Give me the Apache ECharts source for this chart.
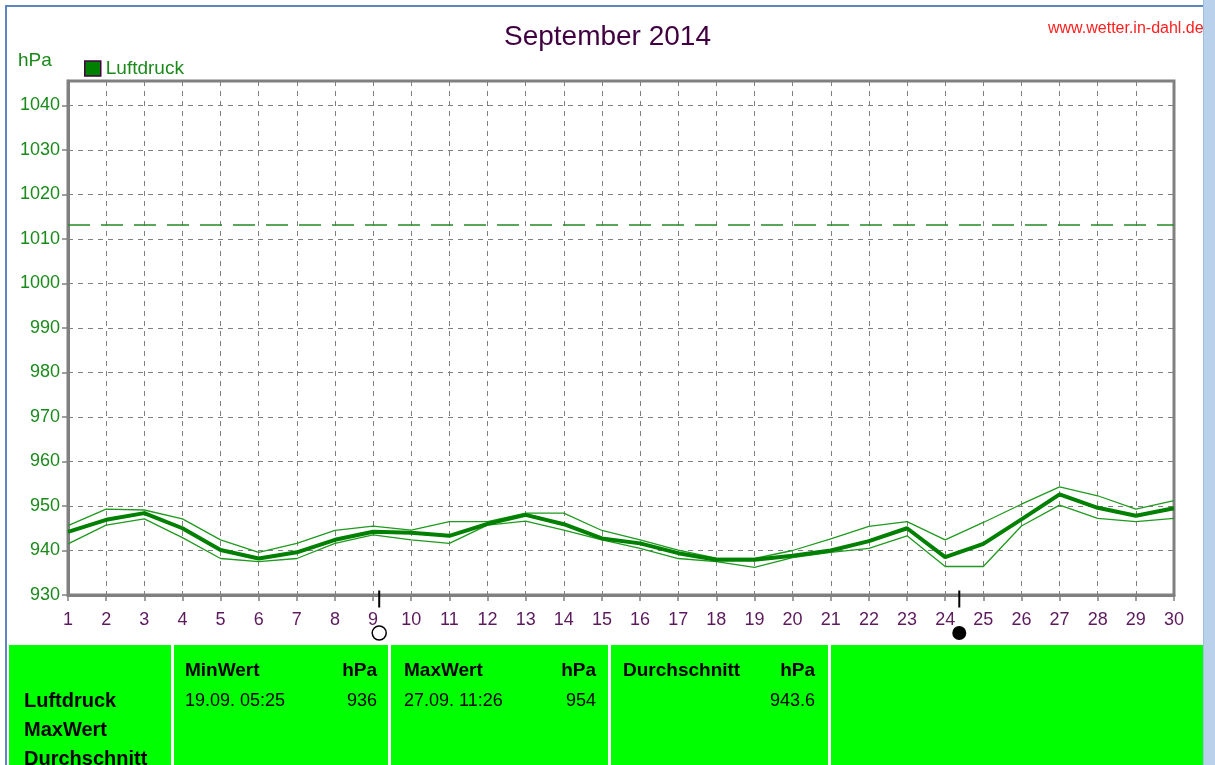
<!DOCTYPE html>
<html>
<head>
<meta charset="utf-8">
<title>Luftdruck September 2014</title>
<script src="https://cdn.jsdelivr.net/npm/echarts@6/dist/echarts.min.js"></script>
<style>
  html, body { margin: 0; padding: 0; background: #fff; }
  #chart { width: 1215px; height: 765px; }
</style>
</head>
<body>
<div id="chart"></div>
<script>
// Tage des Monats
var days = [];
for (var d = 1; d <= 30; d++) days.push(d);

// Tagesmittel (dicke Linie)
var luftMittel = [944.2, 946.9, 948.4, 945.0, 940.1, 938.2, 939.6, 942.4, 944.2, 944.0,
                  943.3, 946.0, 948.0, 945.9, 942.7, 941.6, 939.4, 937.9, 937.9, 938.8,
                  940.0, 942.1, 945.0, 938.5, 941.5, 947.0, 952.6, 949.6, 947.8, 949.5];
// Tagesmaximum (obere dünne Linie)
var luftMax = [945.6, 949.3, 949.1, 947.1, 942.4, 939.6, 941.6, 944.5, 945.5, 944.6,
               946.5, 946.5, 948.4, 948.4, 944.5, 942.4, 940.1, 938.3, 938.2, 940.0,
               942.6, 945.4, 946.5, 942.4, 946.3, 950.4, 954.3, 952.3, 949.3, 951.2];
// Tagesminimum (untere dünne Linie)
var luftMin = [941.5, 945.7, 947.1, 942.9, 938.2, 937.5, 938.2, 941.6, 943.5, 942.4,
               941.6, 945.7, 946.6, 944.6, 942.4, 940.5, 938.2, 937.5, 936.2, 938.4,
               939.6, 940.5, 943.3, 936.4, 936.4, 945.5, 950.2, 947.2, 946.5, 947.2];

// Normaldruck (gestrichelte Linie)
var normalDruck = 1013.25;

// Mondphasen: Vollmond und Neumond (Tag als Kommazahl)
var vollmond = [9.16];
var neumond = [24.37];

// Statistik-Tabelle unten
var minWert = { zeit: '19.09. 05:25', wert: '936' };
var maxWert = { zeit: '27.09. 11:26', wert: '954' };
var durchschnitt = '943.6';

function pairs(arr) {
    return arr.map(function (v, i) { return [days[i], v]; });
}

var chart = echarts.init(document.getElementById('chart'));

var grau = '#808080';
var gruen = '#008000';
var lila = '#5c1a5c';
var schrift = 'Arial, "Liberation Sans", sans-serif';

var option = {
    animation: false,
    title: {
        text: 'September 2014',
        left: 'center',
        top: 18,
        textStyle: { color: '#400040', fontSize: 28, fontWeight: 'normal', fontFamily: schrift }
    },
    legend: {
        data: ['Luftdruck'],
        left: 79,
        top: 54,
        icon: 'rect',
        itemWidth: 16,
        itemHeight: 15,
        itemGap: 6,
        itemStyle: { borderColor: '#400040', borderWidth: 1.5 },
        textStyle: { color: '#1a8a1a', fontSize: 19, fontFamily: schrift, padding: [3, 0, 0, 0] }
    },
    grid: {
        left: 68,
        right: 41,
        top: 81,
        bottom: 170,
        show: true,
        borderColor: grau,
        borderWidth: 3
    },
    xAxis: {
        type: 'value',
        min: 1,
        max: 30,
        interval: 1,
        axisLine: { lineStyle: { color: grau, width: 3 } },
        axisTick: { show: true, length: 6, lineStyle: { color: grau, width: 1.5 } },
        axisLabel: { color: lila, fontSize: 18, fontFamily: schrift, margin: 16 },
        splitLine: { show: true, lineStyle: { color: grau, type: [5, 5], width: 1 } }
    },
    yAxis: {
        type: 'value',
        min: 930,
        max: 1045.5,
        interval: 10,
        axisLine: { show: true, lineStyle: { color: grau, width: 3 } },
        axisTick: { show: true, length: 6, lineStyle: { color: grau, width: 1.5 } },
        axisLabel: {
            color: '#1a8a1a', fontSize: 18, fontFamily: schrift, margin: 8, showMaxLabel: false,
            formatter: function (v) { return String(v); }
        },
        splitLine: { show: true, lineStyle: { color: grau, type: [5, 5], width: 1 } }
    },
    series: [
        {
            name: 'Max',
            type: 'line',
            data: pairs(luftMax),
            showSymbol: false,
            lineStyle: { color: '#1f9a1f', width: 1.3 }
        },
        {
            name: 'Min',
            type: 'line',
            data: pairs(luftMin),
            showSymbol: false,
            lineStyle: { color: '#1f9a1f', width: 1.3 }
        },
        {
            name: 'Luftdruck',
            type: 'line',
            data: pairs(luftMittel),
            showSymbol: false,
            itemStyle: { color: gruen },
            lineStyle: { color: gruen, width: 4 },
            markLine: {
                silent: true,
                symbol: 'none',
                label: { show: false },
                lineStyle: { color: '#238a23', type: [22, 11], width: 1.5 },
                data: [{ yAxis: normalDruck }]
            }
        },
        // Mondstriche an der x-Achse
        {
            name: 'MondStrich',
            type: 'scatter',
            clip: false,
            silent: true,
            data: vollmond.concat(neumond).map(function (t) { return [t, 930]; }),
            symbol: 'rect',
            symbolSize: [2, 17],
            symbolOffset: [0, 4],
            itemStyle: { color: '#000', opacity: 1 }
        },
        // Vollmond: leerer Kreis
        {
            name: 'Vollmond',
            type: 'scatter',
            clip: false,
            silent: true,
            data: vollmond.map(function (t) { return [t, 930]; }),
            symbol: 'circle',
            symbolSize: 14,
            symbolOffset: [0, 38],
            itemStyle: { color: '#fff', borderColor: '#000', borderWidth: 1.5, opacity: 1 }
        },
        // Neumond: gefüllter Kreis
        {
            name: 'Neumond',
            type: 'scatter',
            clip: false,
            silent: true,
            data: neumond.map(function (t) { return [t, 930]; }),
            symbol: 'circle',
            symbolSize: 14,
            symbolOffset: [0, 38],
            itemStyle: { color: '#000', opacity: 1 }
        }
    ],
    graphic: [
        // Fensterrahmen
        { type: 'rect', shape: { x: 5, y: 5, width: 1199, height: 2 }, style: { fill: '#5b86c0' }, z: 100 },
        { type: 'rect', shape: { x: 5, y: 5, width: 2, height: 760 }, style: { fill: '#5b86c0' }, z: 100 },
        // Einheit
        { type: 'text', left: 18, top: 51, style: { text: 'hPa', fill: '#1a8a1a', font: '19px ' + schrift } },
        // Quelle
        { type: 'text', left: 1048, top: 21, style: { text: 'www.wetter.in-dahl.de', fill: '#ff2020', font: '16px ' + schrift }, z: 50 },
        // Scrollbalken rechts
        { type: 'rect', shape: { x: 1203, y: 0, width: 12, height: 765 }, style: { fill: '#b9d1ea' }, z: 100 },
        { type: 'rect', shape: { x: 1203, y: 0, width: 1, height: 765 }, style: { fill: '#9fbfe0' }, z: 101 },
        // Tabelle
        { type: 'rect', shape: { x: 9, y: 645, width: 162, height: 120 }, style: { fill: '#00ff00' } },
        { type: 'rect', shape: { x: 174, y: 645, width: 214, height: 120 }, style: { fill: '#00ff00' } },
        { type: 'rect', shape: { x: 391, y: 645, width: 217, height: 120 }, style: { fill: '#00ff00' } },
        { type: 'rect', shape: { x: 611, y: 645, width: 217, height: 120 }, style: { fill: '#00ff00' } },
        { type: 'rect', shape: { x: 831, y: 645, width: 372, height: 120 }, style: { fill: '#00ff00' } },
        { type: 'text', left: 24, top: 691, style: { text: 'Luftdruck', fill: '#000', font: 'bold 20px ' + schrift } },
        { type: 'text', left: 24, top: 720, style: { text: 'MaxWert', fill: '#000', font: 'bold 20px ' + schrift } },
        { type: 'text', left: 24, top: 749, style: { text: 'Durchschnitt', fill: '#000', font: 'bold 20px ' + schrift } },
        { type: 'text', left: 185, top: 661, style: { text: 'MinWert', fill: '#000', font: 'bold 19px ' + schrift } },
        { type: 'text', right: 1215 - 377, top: 661, style: { text: 'hPa', fill: '#000', font: 'bold 19px ' + schrift } },
        { type: 'text', left: 185, top: 692, style: { text: minWert.zeit, fill: '#000', font: '18px ' + schrift } },
        { type: 'text', right: 1215 - 377, top: 692, style: { text: minWert.wert, fill: '#000', font: '18px ' + schrift } },
        { type: 'text', left: 404, top: 661, style: { text: 'MaxWert', fill: '#000', font: 'bold 19px ' + schrift } },
        { type: 'text', right: 1215 - 596, top: 661, style: { text: 'hPa', fill: '#000', font: 'bold 19px ' + schrift } },
        { type: 'text', left: 404, top: 692, style: { text: maxWert.zeit, fill: '#000', font: '18px ' + schrift } },
        { type: 'text', right: 1215 - 596, top: 692, style: { text: maxWert.wert, fill: '#000', font: '18px ' + schrift } },
        { type: 'text', left: 623, top: 661, style: { text: 'Durchschnitt', fill: '#000', font: 'bold 19px ' + schrift } },
        { type: 'text', right: 1215 - 815, top: 661, style: { text: 'hPa', fill: '#000', font: 'bold 19px ' + schrift } },
        { type: 'text', right: 1215 - 815, top: 692, style: { text: durchschnitt, fill: '#000', font: '18px ' + schrift } }
    ]
};

chart.setOption(option);
</script>
</body>
</html>
